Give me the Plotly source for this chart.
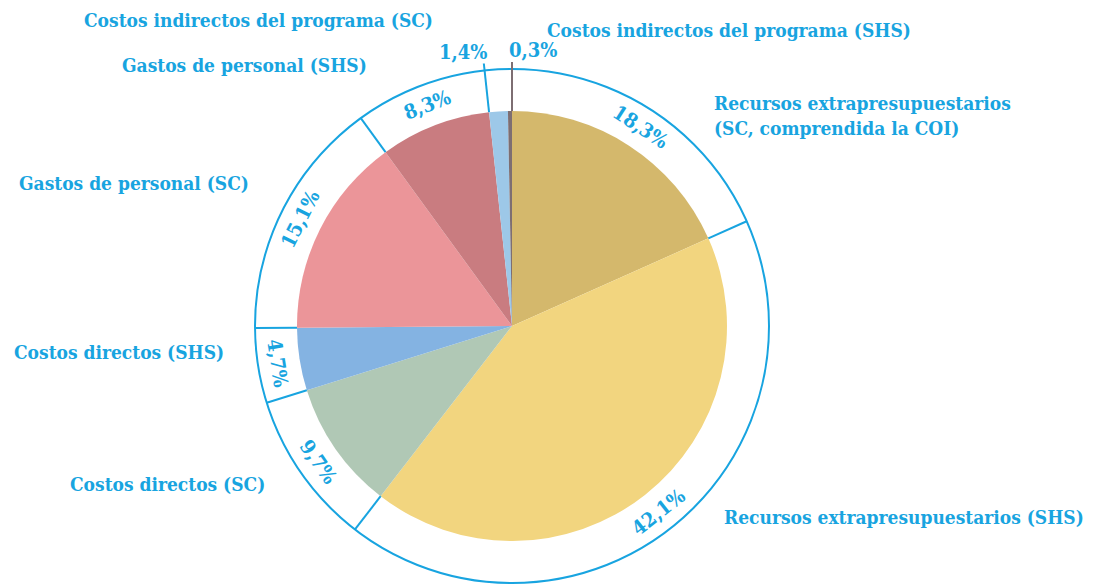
import math
import plotly.graph_objects as go

# ---- data ----
categories = [
    "Recursos extrapresupuestarios<br>(SC, comprendida la COI)",
    "Recursos extrapresupuestarios (SHS)",
    "Costos directos (SC)",
    "Costos directos (SHS)",
    "Gastos de personal (SC)",
    "Gastos de personal (SHS)",
    "Costos indirectos del programa (SC)",
    "Costos indirectos del programa (SHS)",
]
values = [18.3, 42.1, 9.7, 4.7, 15.1, 8.3, 1.4, 0.3]
colors = ["#D4B86C", "#F2D57F", "#B0C8B5", "#84B3E2", "#EB9599", "#C97C80", "#9DC8E8", "#7D6E72"]

# ---- layout constants ----
W, H = 1118, 587
cx, cy, R, RR = 512, 326, 215, 257
BLUE = "#18A4E0"
FONT = "DejaVu Serif Condensed"

total = sum(values)
cum = [0]
for v in values:
    cum.append(cum[-1] + v)
ang = [c / total * 360 for c in cum]  # degrees clockwise from top


def pt(r, a):
    t = math.radians(a)
    return cx + r * math.sin(t), cy - r * math.cos(t)


fig = go.Figure()
fig.add_trace(go.Pie(
    values=values, labels=[c.replace("<br>", " ") for c in categories],
    sort=False, direction="clockwise", rotation=0,
    marker=dict(colors=colors, line=dict(width=0)),
    textinfo="none", hoverinfo="none", showlegend=False,
    domain=dict(x=[(cx - R) / W, (cx + R) / W], y=[1 - (cy + R) / H, 1 - (cy - R) / H]),
))
fig.add_trace(go.Scatter(x=[0, W], y=[0, H], mode="markers", marker=dict(opacity=0),
                         hoverinfo="skip", showlegend=False))

shapes = [dict(type="circle", xref="x", yref="y", x0=cx - RR, x1=cx + RR, y0=cy - RR, y1=cy + RR,
               line=dict(color=BLUE, width=2))]
for i in range(1, 6):
    x0, y0 = pt(R, ang[i])
    x1, y1 = pt(RR, ang[i])
    shapes.append(dict(type="line", xref="x", yref="y", x0=x0, y0=y0, x1=x1, y1=y1,
                       line=dict(color=BLUE, width=2)))
RL = 264
x0, y0 = pt(R, ang[6]); x1, y1 = pt(RL, ang[6])
shapes.append(dict(type="line", xref="x", yref="y", x0=x0, y0=y0, x1=x1, y1=y1,
                   line=dict(color=BLUE, width=2)))
lead14 = (x1, y1)
x0, y0 = pt(R, ang[8]); x1, y1 = pt(RL, ang[8])
shapes.append(dict(type="line", xref="x", yref="y", x0=x0, y0=y0, x1=x1, y1=y1,
                   line=dict(color=colors[7], width=2)))
lead03 = (x1, y1)

annotations = []
pfont = dict(family=FONT, size=20, color=BLUE, weight="bold")
for i in range(6):
    mid = (ang[i] + ang[i + 1]) / 2
    x, y = pt(237, mid)
    ta = mid if (mid <= 90 or mid >= 270) else mid - 180
    if ta > 180:
        ta -= 360
    annotations.append(dict(x=x, y=y, xref="x", yref="y", text=f"{values[i]:.1f}".replace(".", ",") + "%",
                            showarrow=False, textangle=ta, font=pfont,
                            xanchor="center", yanchor="middle"))
annotations.append(dict(x=lead14[0] + 5, y=lead14[1] + 2, xref="x", yref="y",
                        text=f"{values[6]:.1f}".replace(".", ",") + "%", showarrow=False,
                        font=pfont, xanchor="right", yanchor="bottom"))
annotations.append(dict(x=lead03[0] - 5, y=lead03[1] + 2, xref="x", yref="y",
                        text=f"{values[7]:.1f}".replace(".", ",") + "%", showarrow=False,
                        font=pfont, xanchor="left", yanchor="bottom"))

lab_pos = [
    (712, 115),
    (722, 517),
    (68, 484),
    (12, 352),
    (17, 183),
    (120, 65),
    (82, 20),
    (545, 30),
]
lfont = dict(family=FONT, size=19, color=BLUE, weight="bold")
for c, (x, y) in zip(categories, lab_pos):
    annotations.append(dict(x=x, y=y, xref="x", yref="y", text=c, showarrow=False, font=lfont,
                            xanchor="left", yanchor="middle", align="left"))

fig.update_layout(
    width=W, height=H, margin=dict(l=0, r=0, t=0, b=0),
    paper_bgcolor="white", plot_bgcolor="white",
    xaxis=dict(range=[0, W], visible=False, domain=[0, 1], fixedrange=True),
    yaxis=dict(range=[H, 0], visible=False, domain=[0, 1], fixedrange=True),
    shapes=shapes, annotations=annotations,
)
fig.write_html("out.html", config={"displayModeBar": False},
               post_script="document.body.style.margin='0';document.body.style.overflow='hidden';")
